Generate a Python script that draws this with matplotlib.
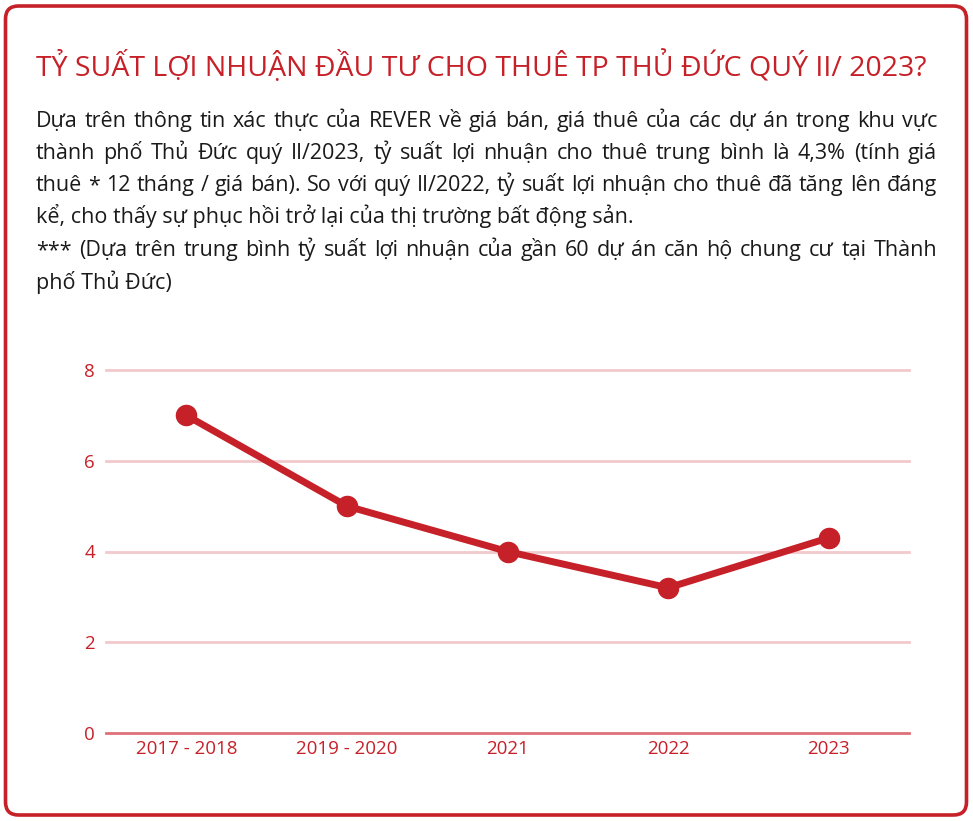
import matplotlib
matplotlib.use("Agg")
import matplotlib.pyplot as plt
from matplotlib.patches import FancyBboxPatch

plt.rcParams['font.family'] = ['Open Sans', 'Noto Sans', 'DejaVu Sans']

categories = ["2017 - 2018", "2019 - 2020", "2021", "2022", "2023"]
values = [7.0, 5.0, 4.0, 3.2, 4.3]
yticks = [0, 2, 4, 6, 8]

title = "TỶ SUẤT LỢI NHUẬN ĐẦU TƯ CHO THUÊ TP THỦ ĐỨC QUÝ II/ 2023?"
body_lines = [
    ("Dựa trên thông tin xác thực của REVER về giá bán, giá thuê của các dự án trong khu vực", True),
    ("thành phố Thủ Đức quý II/2023, tỷ suất lợi nhuận cho thuê trung bình là 4,3% (tính giá", True),
    ("thuê * 12 tháng / giá bán). So với quý II/2022, tỷ suất lợi nhuận cho thuê đã tăng lên đáng", True),
    ("kể, cho thấy sự phục hồi trở lại của thị trường bất động sản.", False),
    ("*** (Dựa trên trung bình tỷ suất lợi nhuận của gần 60 dự án căn hộ chung cư tại Thành", True),
    ("phố Thủ Đức)", False),
]

RED = "#c62128"
W, H = 973, 821
fig = plt.figure(figsize=(W / 100, H / 100), dpi=100)

bg = fig.add_axes([0, 0, 1, 1], zorder=0)
bg.set_xlim(0, W)
bg.set_ylim(H, 0)
bg.axis("off")
border = FancyBboxPatch((5.5, 6), W - 12, H - 12,
                        boxstyle="round,pad=0,rounding_size=13",
                        fill=False, edgecolor=RED, linewidth=2.6)
bg.add_patch(border)

renderer = fig.canvas.get_renderer()

def width_of(s, fs):
    tt = bg.text(0, 0, s, fontsize=fs)
    wv = tt.get_window_extent(renderer).width
    tt.remove()
    return wv

# title scaled to target width
t = bg.text(36, 76, title, fontsize=22, color=RED, ha="left", va="baseline")
w = t.get_window_extent(renderer).width
t.set_fontsize(22 * (889 / w))

# body text, justified; font size chosen so longest justified line nearly fills width
left, right = 36, 937
baselines = [127, 159, 191, 223, 256, 289]
base_fs = 14
maxw = max(width_of(l, base_fs) for l, j in body_lines if j)
fs = base_fs * (right - left - 6) / maxw
for (line, justify), yb in zip(body_lines, baselines):
    words = line.split(" ")
    if not justify:
        bg.text(left, yb, line, fontsize=fs, color="#1a1a1a", ha="left", va="baseline")
        continue
    arts = [bg.text(0, yb, wd, fontsize=fs, color="#1a1a1a", ha="left", va="baseline") for wd in words]
    widths = [a.get_window_extent(renderer).width for a in arts]
    gap = (right - left - sum(widths)) / (len(words) - 1)
    x = left
    for a, wd in zip(arts, widths):
        a.set_x(x)
        x += wd + gap

# tick label size matched to label width
tick_fs = 12.5 * 102 / width_of(categories[0], 12.5)

ax_left, ax_right = 106 / W, 909 / W
ax_bottom = (H - 733) / H
ax_top = (H - 370) / H
ax = fig.add_axes([ax_left, ax_bottom, ax_right - ax_left, ax_top - ax_bottom], zorder=2)
ax.patch.set_alpha(0)
x = list(range(len(categories)))
ax.plot(x, values, color=RED, linewidth=5, marker="o", markersize=14.5,
        solid_capstyle="round", zorder=3, clip_on=False)
ax.set_xlim(-0.5, len(categories) - 0.5)
ax.set_ylim(0, 8)
ax.set_yticks(yticks)
ax.set_yticklabels([str(v) for v in yticks])
ax.set_xticks(x)
ax.set_xticklabels(categories)
for v in yticks:
    if v == 0:
        ax.axhline(v, color="#de7178", linewidth=2, zorder=1, clip_on=False)
    else:
        ax.axhline(v, color="#f2c9cc", linewidth=2, zorder=1, clip_on=False)
for s in ax.spines.values():
    s.set_visible(False)
ax.tick_params(axis="both", length=0, colors=RED, labelsize=tick_fs)
ax.tick_params(axis="y", pad=8)
ax.tick_params(axis="x", pad=5)

fig.savefig("out.png", dpi=100)
